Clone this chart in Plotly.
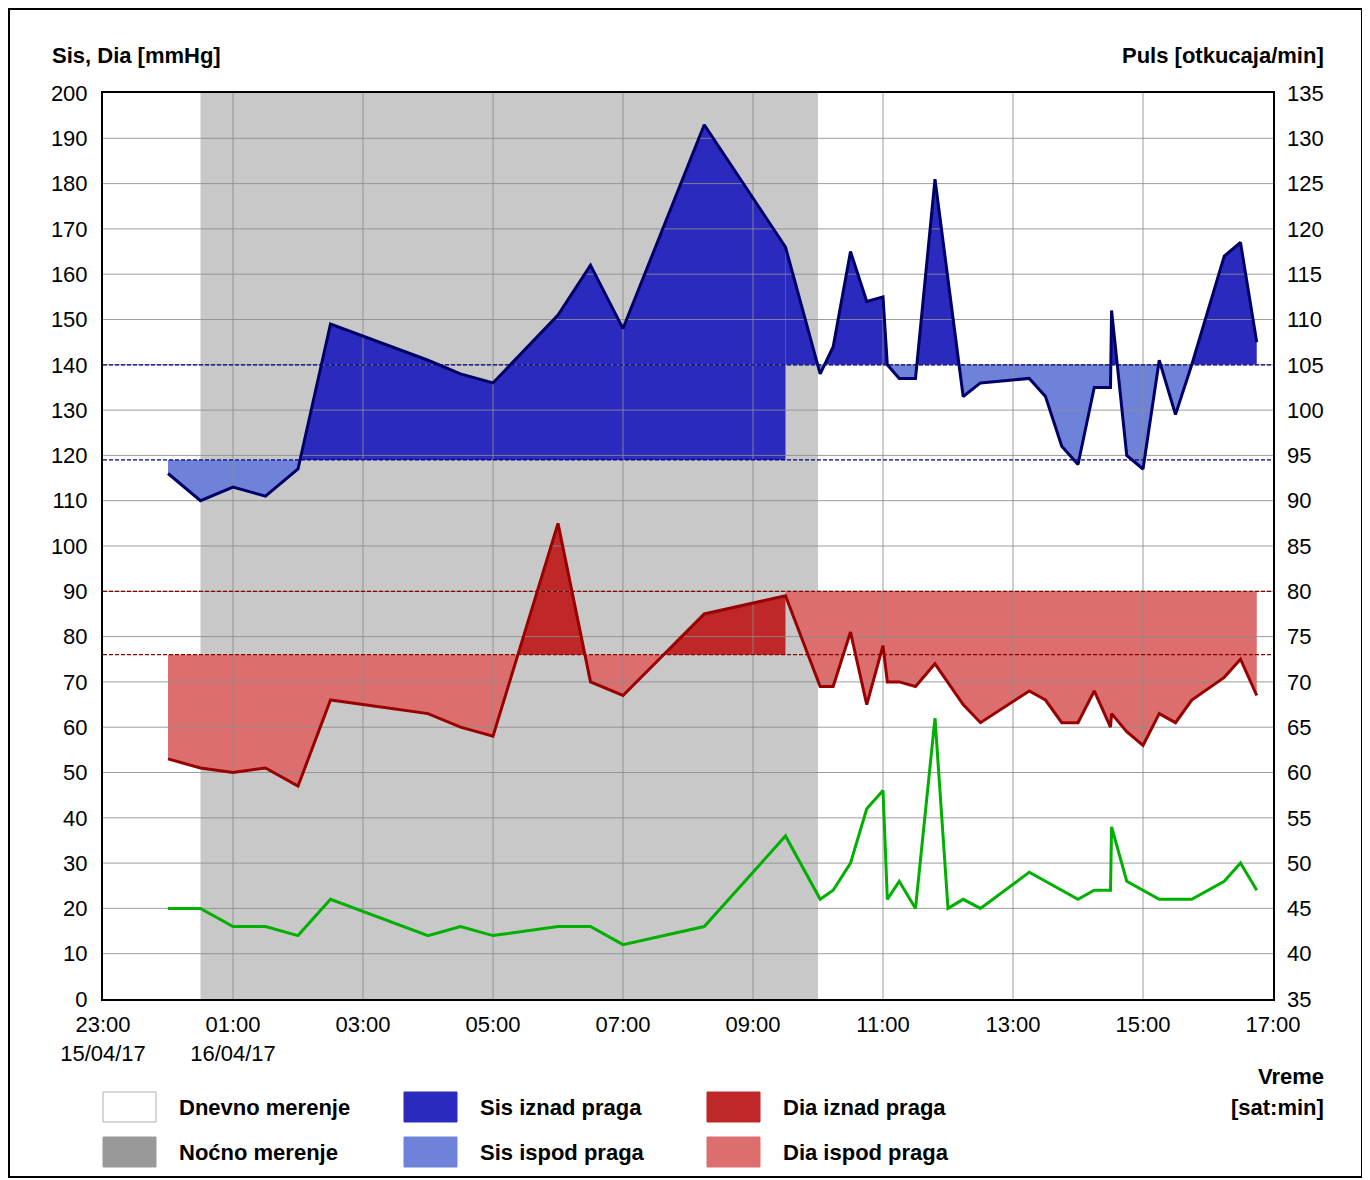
import plotly.graph_objects as go

# ── Data (15/04/17 23:00 -> 16/04/17 17:00) ─────────────────
times = ["00:00", "00:30", "01:00", "01:30", "02:00", "02:30", "04:00", "04:30",
         "05:00", "06:00", "06:30", "07:00", "08:15", "09:30", "10:02", "10:14",
         "10:30", "10:45", "11:00", "11:04", "11:15", "11:30", "11:48", "12:14",
         "12:30", "13:15", "13:30", "13:45", "14:00", "14:15", "14:30", "14:31",
         "14:45", "15:00", "15:15", "15:30", "15:45", "16:15", "16:30", "16:45"]
sis = [116, 110, 113, 111, 117, 149, 141, 138, 136, 151, 162, 148, 193, 166,
       138, 144, 165, 154, 155, 140, 137, 137, 181, 133, 136, 137, 133, 122,
       118, 135, 135, 152, 120, 117, 141, 129, 140, 164, 167, 145]
dia = [53, 51, 50, 51, 47, 66, 63, 60, 58, 105, 70, 67, 85, 89,
       69, 69, 81, 65, 78, 70, 70, 69, 74, 65, 61, 68, 66, 61,
       61, 68, 60, 63, 59, 56, 63, 61, 66, 71, 75, 67]

pulse_times = ["00:00", "00:30", "01:00", "01:30", "02:00", "02:30", "04:00", "04:30",
               "05:00", "06:00", "06:30", "07:00", "08:15", "09:30", "10:02", "10:14",
               "10:30", "10:45", "11:00", "11:04", "11:15", "11:30", "11:48", "12:00",
               "12:14", "12:30", "13:15", "14:00", "14:15", "14:30", "14:31", "14:45",
               "15:15", "15:30", "15:45", "16:15", "16:30", "16:45"]
pulse = [45, 45, 43, 43, 42, 46, 42, 43, 42, 43, 43, 41, 43, 53, 46, 47, 50, 56, 58,
         46, 48, 45, 66, 45, 46, 45, 49, 46, 47, 47, 54, 48, 46, 46, 46, 48, 50, 47]

night_start, night_end = "00:30", "10:00"
sis_thr_night, dia_thr_night = 119, 76
sis_thr_day, dia_thr_day = 140, 90

x_tick_labels = ["23:00<br>15/04/17", "01:00<br>16/04/17", "03:00", "05:00", "07:00",
                 "09:00", "11:00", "13:00", "15:00", "17:00"]

# ── Colors ──────────────────────────────────────────────────
SIS_LINE, DIA_LINE, PULSE_LINE = "#000066", "#990000", "#00B000"
SIS_HI, SIS_LO = "#2A2ABF", "#6F82DA"
DIA_HI, DIA_LO = "#BF2828", "#DD6E6E"
NIGHT = "#C8C8C8"
GRID = "rgba(140,140,140,0.85)"
FONT = "Liberation Sans, Arial, sans-serif"

# page is offset by the 8px body margin, positions below are page pixels
OFF = 8
W, H = 1356, 1172
ML, MT = 103 - OFF, 93 - OFF
MR, MB = W - (1273 - OFF), H - (999 - OFF)
PW, PH = W - ML - MR, H - MT - MB

X_RANGE = [0, 18]
Y_RANGE = [0, 200]


def to_h(t):
    hh, mm = t[:5].split(":")
    return (int(hh) + int(mm) / 60 - 23) % 24


def px(x):
    return (x - OFF - ML) / PW


def py(y):
    return (H - MB - (y - OFF)) / PH


def clip_polygons(xs, ys, thr):
    """Polygons (x, above, below) between the curve and a threshold."""
    cx, cy = [xs[0]], [ys[0]]
    for i in range(1, len(xs)):
        y0, y1 = ys[i - 1], ys[i]
        if (y0 - thr) * (y1 - thr) < 0:
            t = (thr - y0) / (y1 - y0)
            cx.append(xs[i - 1] + t * (xs[i] - xs[i - 1]))
            cy.append(thr)
        cx.append(xs[i])
        cy.append(ys[i])
    hi = [max(v, thr) for v in cy]
    lo = [min(v, thr) for v in cy]
    base = [thr] * len(cx)
    return cx + cx[::-1], hi + base[::-1], lo + base[::-1]


hours = [to_h(t) for t in times]
p_hours = [to_h(t) for t in pulse_times]
n_night = sum(1 for h in hours if h < to_h(night_end))

fig = go.Figure()

# night period shading
fig.add_vrect(x0=to_h(night_start), x1=to_h(night_end), fillcolor=NIGHT,
              opacity=1, line_width=0, layer="below")

groups = [
    (slice(0, n_night), sis_thr_night, dia_thr_night),
    (slice(n_night - 1, None), sis_thr_day, dia_thr_day),
]
for sl, s_thr, d_thr in groups:
    for vals, thr, c_hi, c_lo in [(sis, s_thr, SIS_HI, SIS_LO), (dia, d_thr, DIA_HI, DIA_LO)]:
        fx, fhi, flo = clip_polygons(hours[sl], vals[sl], thr)
        for fy, col in [(fhi, c_hi), (flo, c_lo)]:
            fig.add_trace(go.Scatter(
                x=fx, y=fy, mode="lines", fill="toself", fillcolor=col,
                line=dict(width=0, color=col), hoverinfo="skip", showlegend=False,
            ))

# grid drawn over the fills (as in the original), below the curves
gx, gy = [], []
for v in [to_h(s) for s in x_tick_labels][1:-1]:
    gx += [v, v, None]
    gy += Y_RANGE + [None]
for v in range(Y_RANGE[0] + 10, Y_RANGE[1], 10):
    gx += X_RANGE + [None]
    gy += [v, v, None]
fig.add_trace(go.Scatter(x=gx, y=gy, mode="lines", line=dict(color=GRID, width=1),
                         hoverinfo="skip", showlegend=False))

# threshold lines
for thr in (sis_thr_day, sis_thr_night):
    fig.add_hline(y=thr, line_dash="4px,2px", line_color="#000080", line_width=1.3)
for thr in (dia_thr_day, dia_thr_night):
    fig.add_hline(y=thr, line_dash="4px,2px", line_color="#8B0000", line_width=1.3)

fig.add_trace(go.Scatter(x=hours, y=sis, mode="lines", name="Sis",
                         line=dict(color=SIS_LINE, width=3), showlegend=False))
fig.add_trace(go.Scatter(x=hours, y=dia, mode="lines", name="Dia",
                         line=dict(color=DIA_LINE, width=3), showlegend=False))
fig.add_trace(go.Scatter(x=p_hours, y=pulse, mode="lines", name="Puls", yaxis="y2",
                         line=dict(color=PULSE_LINE, width=3), showlegend=False))

tickfont = dict(family=FONT, size=22, color="black")
fig.update_layout(
    width=W, height=H,
    margin=dict(l=ML, r=MR, t=MT, b=MB),
    paper_bgcolor="white", plot_bgcolor="white",
    showlegend=False,
    xaxis=dict(range=X_RANGE, tickvals=[to_h(s) for s in x_tick_labels],
               ticktext=x_tick_labels, showgrid=False,
               showline=True, mirror=True, linecolor="black", linewidth=2,
               zeroline=False, ticks="", tickfont=tickfont, ticklabelstandoff=5),
    yaxis=dict(range=Y_RANGE, dtick=10, showgrid=False,
               showline=True, mirror=True, linecolor="black", linewidth=2,
               zeroline=False, ticks="", tickfont=tickfont, ticklabelstandoff=9),
    yaxis2=dict(range=[35, 135], dtick=5, overlaying="y", side="right", showgrid=False,
                zeroline=False, ticks="", tickfont=tickfont, ticklabelstandoff=13),
)

bold = dict(family=FONT, size=22, color="black")
annots = [
    ("<b>Sis, Dia [mmHg]</b>", 50, 56, "left"),
    ("<b>Puls [otkucaja/min]</b>", 1326, 56, "right"),
    ("<b>Vreme</b>", 1326, 1076, "right"),
    ("<b>[sat:min]</b>", 1326, 1107, "right"),
]
for text, x, y, anchor in annots:
    fig.add_annotation(text=text, xref="paper", yref="paper", x=px(x), y=py(y),
                       xanchor=anchor, yanchor="middle", showarrow=False, font=bold)

# custom legend
legend_items = [
    ("Dnevno merenje", "white", 103, 1107),
    ("Noćno merenje", "#999999", 103, 1152),
    ("Sis iznad praga", SIS_HI, 404, 1107),
    ("Sis ispod praga", SIS_LO, 404, 1152),
    ("Dia iznad praga", DIA_HI, 707, 1107),
    ("Dia ispod praga", DIA_LO, 707, 1152),
]
for label, col, x, y in legend_items:
    fig.add_shape(type="rect", xref="paper", yref="paper",
                  x0=px(x), x1=px(x + 53), y0=py(y + 15), y1=py(y - 15),
                  fillcolor=col, line=dict(color="#B0B0B0" if col == "white" else col, width=1))
    fig.add_annotation(text=f"<b>{label}</b>", xref="paper", yref="paper",
                       x=px(x + 74), y=py(y), xanchor="left", yanchor="middle",
                       showarrow=False, font=bold)

# outer frame
fig.add_shape(type="rect", xref="paper", yref="paper",
              x0=px(OFF + 1), x1=px(1362), y0=py(1177), y1=py(9),
              line=dict(color="black", width=2), fillcolor="rgba(0,0,0,0)")

fig.write_html("out.html")
